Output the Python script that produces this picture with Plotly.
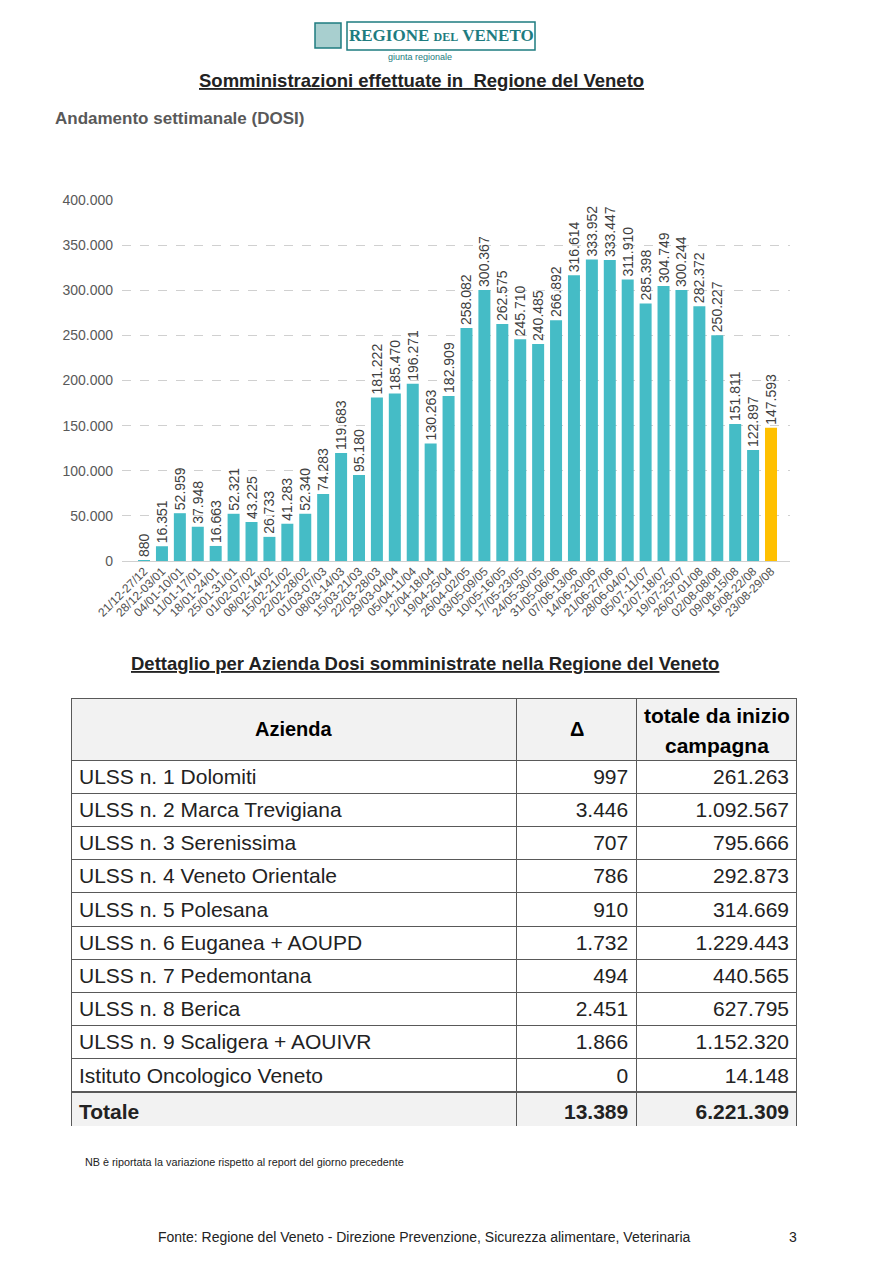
import plotly.graph_objects as go

W, H = 874, 1280

weeks = ["21/12-27/12", "28/12-03/01", "04/01-10/01", "11/01-17/01", "18/01-24/01", "25/01-31/01",
         "01/02-07/02", "08/02-14/02", "15/02-21/02", "22/02-28/02", "01/03-07/03", "08/03-14/03",
         "15/03-21/03", "22/03-28/03", "29/03-04/04", "05/04-11/04", "12/04-18/04", "19/04-25/04",
         "26/04-02/05", "03/05-09/05", "10/05-16/05", "17/05-23/05", "24/05-30/05", "31/05-06/06",
         "07/06-13/06", "14/06-20/06", "21/06-27/06", "28/06-04/07", "05/07-11/07", "12/07-18/07",
         "19/07-25/07", "26/07-01/08", "02/08-08/08", "09/08-15/08", "16/08-22/08", "23/08-29/08"]
doses = [880, 16351, 52959, 37948, 16663, 52321, 43225, 26733, 41283, 52340, 74283, 119683,
         95180, 181222, 185470, 196271, 130263, 182909, 258082, 300367, 262575, 245710, 240485,
         266892, 316614, 333952, 333447, 311910, 285398, 304749, 300244, 282372, 250227, 151811,
         122897, 147593]
y_ticks = [0, 50000, 100000, 150000, 200000, 250000, 300000, 350000, 400000]

aziende = ["ULSS n. 1 Dolomiti", "ULSS n. 2 Marca Trevigiana", "ULSS n. 3 Serenissima",
           "ULSS n. 4 Veneto Orientale", "ULSS n. 5 Polesana", "ULSS n. 6 Euganea + AOUPD",
           "ULSS n. 7 Pedemontana", "ULSS n. 8 Berica", "ULSS n. 9 Scaligera + AOUIVR",
           "Istituto Oncologico Veneto"]
delta = [997, 3446, 707, 786, 910, 1732, 494, 2451, 1866, 0]
totale = [261263, 1092567, 795666, 292873, 314669, 1229443, 440565, 627795, 1152320, 14148]
delta_tot = 13389
totale_tot = 6221309
header_labels = ["Azienda", "Δ", "totale da inizio", "campagna"]


def fmt(v):
    return f"{v:,}".replace(",", ".")


TEAL = "#45BCC6"
YELLOW = "#FFC000"
GRAYTXT = "#595959"

colors = [TEAL] * (len(doses) - 1) + [YELLOW]

OFF = 8  # page body margin


def px_x(x):
    return (x - OFF) / W


def px_y(y):
    return 1 - (y - OFF) / H


fig = go.Figure()
fig.add_trace(go.Bar(
    x=weeks, y=doses, marker_color=colors, marker_line_width=0,
    texttemplate="%{y:,}", textposition="outside", textangle=-90,
    constraintext="none", cliponaxis=False,
    textfont=dict(family="Liberation Sans, Arial", size=14, color="#404040"),
    hoverinfo="skip",
))

# table
col1 = aziende + ["<b>Totale</b>"]
col2 = [fmt(v) for v in delta] + [f"<b>{fmt(delta_tot)}</b>"]
col3 = [fmt(v) for v in totale] + [f"<b>{fmt(totale_tot)}</b>"]
fills = ["white"] * len(aziende) + ["#F2F2F2"]
TFONT = "Liberation Sans, Arial, sans-serif"
x_tab = [71, 517, 637, 798]

fig.add_trace(go.Table(
    domain=dict(x=[px_x(x_tab[0]), px_x(x_tab[3])], y=[px_y(1126), px_y(698)]),
    columnwidth=[x_tab[1] - x_tab[0], x_tab[2] - x_tab[1], x_tab[3] - x_tab[2]],
    header=dict(
        values=["", "", ""],
        align="center", height=62,
        fill_color="#F2F2F2", line=dict(color="#595959", width=1),
        font=dict(family=TFONT, size=20, color="black"),
    ),
    cells=dict(
        values=[col1, col2, col3],
        align=["left", "right", "right"], height=33.2,
        fill_color=[fills, fills, fills], line=dict(color="#595959", width=1),
        font=dict(family=TFONT, size=21, color="#222222"),
    ),
))

fig.update_layout(
    width=W, height=H, margin=dict(l=0, r=0, t=0, b=0, autoexpand=False),
    paper_bgcolor="white", plot_bgcolor="white",
    separators=",.", showlegend=False, bargap=0.33,
    font=dict(family="Liberation Sans, Arial, sans-serif"),
    xaxis=dict(
        domain=[px_x(122), px_x(790)], range=[-1.23, 36.06], automargin=False,
        tickangle=-45, tickfont=dict(size=12, color="#505050"),
        showgrid=False, showline=False, ticks="", fixedrange=True,
    ),
    yaxis=dict(
        domain=[px_y(561), px_y(200)], range=[0, 400000], automargin=False,
        tickvals=y_ticks, tickformat=",d",
        tickfont=dict(size=14, color=GRAYTXT),
        showgrid=True, gridcolor="#D0D0D0", griddash="dash", gridwidth=1,
        zeroline=True, zerolinecolor="#D0D0D0", zerolinewidth=1,
        ticks="", ticklabelstandoff=8, fixedrange=True,
    ),
)

# header texts, vertically centred in the header cells
header_pos = [(294, 729, 0), (577, 729, 1), (717, 715, 2), (717, 745, 3)]
for hx, hy, i in header_pos:
    fig.add_annotation(x=px_x(hx), y=px_y(hy), xref="paper", yref="paper",
                       text=f"<b>{header_labels[i]}</b>", showarrow=False,
                       xanchor="center", yanchor="middle",
                       font=dict(family=TFONT, size=21 if i >= 2 else 20, color="black"))

# logo
LOGO = "#1E7C80"
fig.add_shape(type="rect", xref="paper", yref="paper",
              x0=px_x(347), x1=px_x(535), y0=px_y(50), y1=px_y(22),
              line=dict(color=LOGO, width=1.5), fillcolor="white")
fig.add_shape(type="rect", xref="paper", yref="paper",
              x0=px_x(315), x1=px_x(341), y0=px_y(48), y1=px_y(23),
              line=dict(color=LOGO, width=1.5), fillcolor="#A8CFCF")
fig.add_annotation(x=px_x(441), y=px_y(36), xref="paper", yref="paper",
                   text="<b>REGIONE del VENETO</b>", showarrow=False,
                   xanchor="center", yanchor="middle",
                   font=dict(family="Liberation Serif, DejaVu Serif, serif", size=17,
                             color=LOGO, variant="small-caps"))
fig.add_annotation(x=px_x(420), y=px_y(57), xref="paper", yref="paper",
                   text="giunta regionale", showarrow=False, xanchor="center", yanchor="middle",
                   font=dict(family="Liberation Sans, Arial", size=9, color=LOGO))

texts = [
    (421, 80, "<b><u>Somministrazioni effettuate in  Regione del Veneto</u></b>", 18.5, "#222222", "center"),
    (53, 118, "<b>Andamento settimanale (DOSI)</b>", 17, GRAYTXT, "left"),
    (425, 663, "<b><u>Dettaglio per Azienda Dosi somministrate nella Regione del Veneto</u></b>", 18.5, "#222222", "center"),
    (83, 1162, "NB è riportata la variazione rispetto al report del giorno precedente", 10.8, "#222222", "left"),
    (424, 1237, "Fonte: Regione del Veneto - Direzione Prevenzione, Sicurezza alimentare, Veterinaria", 14, "#222222", "center"),
    (793, 1237, "3", 14, "#222222", "center"),
]
for x, y, t, s, c, a in texts:
    fig.add_annotation(x=px_x(x), y=px_y(y), xref="paper", yref="paper", text=t,
                       showarrow=False, xanchor=a, yanchor="middle",
                       font=dict(size=s, color=c))

fig.write_html("out.html")
